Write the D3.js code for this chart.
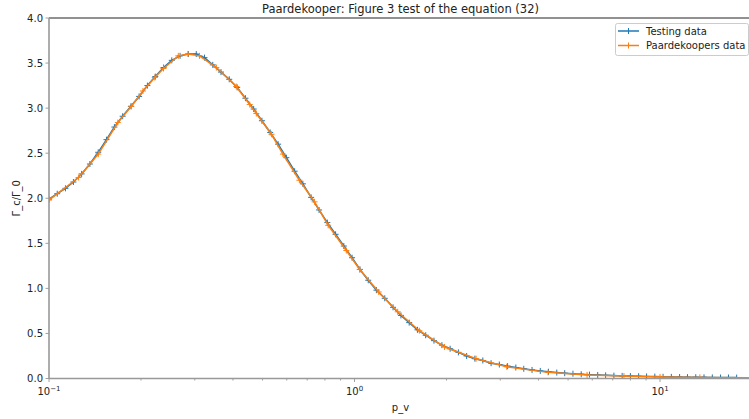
<!DOCTYPE html>
<html>
<head>
<meta charset="utf-8">
<script src="https://cdn.jsdelivr.net/npm/d3@7"></script>
<style>
  body { margin: 0; background: #fff; }
  svg { font-family: "DejaVu Sans", sans-serif; }
</style>
</head>
<body>
<script>
// testing data (log-spaced p_v values)
var testX = [0.1, 0.1064, 0.1132, 0.1202, 0.1279, 0.1361, 0.1449, 0.1542, 0.1637, 0.1742,
  0.1854, 0.1972, 0.2099, 0.2228, 0.2371, 0.2523, 0.2685, 0.2858, 0.3034, 0.3228,
  0.3436, 0.3656, 0.3890, 0.4130, 0.4395, 0.4677, 0.4977, 0.5297, 0.5623, 0.5984,
  0.6368, 0.6776, 0.7211, 0.7656, 0.8147, 0.8670, 0.9226, 0.9817, 1.042, 1.109,
  1.180, 1.256, 1.337, 1.419, 1.510, 1.607, 1.710, 1.820, 1.932, 2.056,
  2.188, 2.328, 2.477, 2.630, 2.799, 2.979, 3.170, 3.373, 3.581, 3.811,
  4.055, 4.315, 4.592, 4.875, 5.188, 5.521, 5.875, 6.252, 6.637, 7.063,
  7.516, 7.998, 8.511, 9.036, 9.616, 10.23, 10.89, 11.59, 12.30, 13.09,
  13.93, 14.83, 15.78, 16.75, 17.82];
var testY = [1.99, 2.05, 2.11, 2.18, 2.27, 2.38, 2.51, 2.65, 2.79, 2.91,
  3.02, 3.13, 3.25, 3.35, 3.45, 3.53, 3.58, 3.60, 3.60, 3.56,
  3.48, 3.40, 3.32, 3.23, 3.11, 2.99, 2.86, 2.73, 2.60, 2.45,
  2.30, 2.16, 2.01, 1.87, 1.73, 1.60, 1.47, 1.34, 1.21, 1.09,
  0.98, 0.89, 0.79, 0.70, 0.62, 0.54, 0.48, 0.42, 0.37, 0.33,
  0.29, 0.25, 0.22, 0.20, 0.17, 0.155, 0.137, 0.122, 0.108, 0.095,
  0.084, 0.075, 0.066, 0.059, 0.053, 0.047, 0.043, 0.039, 0.035, 0.032,
  0.029, 0.027, 0.025, 0.023, 0.021, 0.019, 0.018, 0.016, 0.015, 0.014,
  0.013, 0.012, 0.011, 0.011, 0.010];

var paperX = [0.1, 0.125, 0.145, 0.168, 0.186, 0.203, 0.222, 0.237, 0.265, 0.285,
  0.311, 0.353, 0.41, 0.454, 0.477, 0.535, 0.583, 0.66, 0.74, 0.82,
  0.94, 1.04, 1.2, 1.385, 1.63, 1.97, 2.5, 3.15, 4.3, 5.77,
  7.62, 10, 13.5, 20];
var paperY = [1.98, 2.23, 2.49, 2.84, 3.02, 3.19, 3.34, 3.44, 3.58, 3.60,
  3.58, 3.45, 3.24, 3.04, 2.94, 2.71, 2.49, 2.20, 1.96, 1.70,
  1.42, 1.21, 0.96, 0.74, 0.53, 0.35, 0.22, 0.13, 0.068, 0.04,
  0.027, 0.018, 0.012, 0.008];

var yTicks = [0, 0.5, 1, 1.5, 2, 2.5, 3, 3.5, 4];
var xMajor = [0.1, 1, 10];
var xLabels = ["10", "10", "10"], xExp = ["\u22121", "0", "1"];

function run() {
    var width = 749, height = 419;
    var mLeft = 49, mRight = 752, mTop = 18, mBottom = 378.5;

    var svg = d3.select("body").append("svg")
        .attr("width", width)
        .attr("height", height);

    var x = d3.scaleLog().domain([0.1, 20]).range([mLeft, mRight]);
    var y = d3.scaleLinear().domain([0, 4]).range([mBottom, mTop]);

    svg.append("defs").append("clipPath").attr("id", "clip")
        .append("rect").attr("x", mLeft).attr("y", mTop - 5)
        .attr("width", mRight - mLeft).attr("height", mBottom - mTop + 5);

    // minor x ticks
    var minor = [];
    [0.1, 1, 10].forEach(function (d) {
        for (var k = 2; k <= 9; k++) if (d * k <= 20) minor.push(d * k);
    });
    svg.selectAll(".minor").data(minor).enter().append("line")
        .attr("x1", d => x(d)).attr("x2", d => x(d))
        .attr("y1", mBottom).attr("y2", mBottom + 2)
        .attr("stroke", "#888").attr("stroke-width", 0.8);

    svg.selectAll(".major").data(xMajor).enter().append("line")
        .attr("x1", d => x(d)).attr("x2", d => x(d))
        .attr("y1", mBottom).attr("y2", mBottom + 3.5)
        .attr("stroke", "#888").attr("stroke-width", 0.8);

    var xl = svg.selectAll(".xl").data(xMajor).enter().append("text")
        .attr("x", d => x(d)).attr("y", mBottom + 16)
        .attr("text-anchor", "middle")
        .attr("font-size", 10).attr("fill", "#222");
    xl.append("tspan").text((d, i) => xLabels[i]);
    xl.append("tspan").attr("dy", -4).attr("font-size", 7).text((d, i) => xExp[i]);

    svg.selectAll(".yt").data(yTicks).enter().append("line")
        .attr("x1", mLeft - 3.5).attr("x2", mLeft)
        .attr("y1", d => y(d)).attr("y2", d => y(d))
        .attr("stroke", "#888").attr("stroke-width", 0.8);

    svg.selectAll(".yl").data(yTicks).enter().append("text")
        .attr("x", mLeft - 6).attr("y", d => y(d) + 3.5)
        .attr("text-anchor", "end")
        .attr("font-size", 10).attr("fill", "#222")
        .text(d => d.toFixed(1));

    // curves
    var line = d3.line().x(d => x(d[0])).y(d => y(d[1]));
    var plot = svg.append("g").attr("clip-path", "url(#clip)");

    function series(xs, ys, color) {
        var pts = xs.map((d, i) => [d, ys[i]]);
        plot.append("path").datum(pts)
            .attr("d", line)
            .attr("fill", "none")
            .attr("stroke", color)
            .attr("stroke-width", 1.5);
        plot.selectAll(null).data(pts).enter().append("path")
            .attr("d", d => {
                var cx = x(d[0]), cy = y(d[1]);
                return "M" + (cx - 3) + "," + cy + "H" + (cx + 3) + "M" + cx + "," + (cy - 3) + "V" + (cy + 3);
            })
            .attr("stroke", color)
            .attr("stroke-width", 1);
    }
    series(testX, testY, "#1f77b4");
    series(paperX, paperY, "#ff7f0e");

    // spines
    svg.append("line").attr("x1", mLeft).attr("x2", mRight).attr("y1", mTop).attr("y2", mTop)
        .attr("stroke", "#222").attr("stroke-width", 1);
    svg.append("line").attr("x1", mLeft).attr("x2", mLeft).attr("y1", mTop).attr("y2", mBottom)
        .attr("stroke", "#999").attr("stroke-width", 1.6);
    svg.append("line").attr("x1", mLeft).attr("x2", mRight).attr("y1", mBottom).attr("y2", mBottom)
        .attr("stroke", "#999").attr("stroke-width", 1.6);

    // texts
    svg.append("text").attr("x", (mLeft + mRight) / 2).attr("y", 13)
        .attr("text-anchor", "middle").attr("font-size", 11.5).attr("fill", "#222")
        .text("Paardekooper: Figure 3 test of the equation (32)");
    svg.append("text").attr("x", (mLeft + mRight) / 2).attr("y", 411)
        .attr("text-anchor", "middle").attr("font-size", 10).attr("fill", "#222")
        .text("p_v");
    svg.append("text").attr("transform", "translate(20," + (mTop + mBottom) / 2 + ") rotate(-90)")
        .attr("text-anchor", "middle").attr("font-size", 10).attr("fill", "#222")
        .text("\u0393_c/\u0393_0");

    // legend
    var lg = svg.append("g");
    lg.append("rect").attr("x", 615.5).attr("y", 23.5).attr("width", 133).attr("height", 32)
        .attr("rx", 2).attr("fill", "#fff").attr("fill-opacity", 0.8)
        .attr("stroke", "#ccc").attr("stroke-width", 1);
    var names = ["Testing data", "Paardekoopers data"], colors = ["#1f77b4", "#ff7f0e"];
    names.forEach(function (n, i) {
        var yy = 31 + i * 14.5;
        lg.append("line").attr("x1", 618).attr("x2", 639).attr("y1", yy).attr("y2", yy)
            .attr("stroke", colors[i]).attr("stroke-width", 1.5);
        lg.append("line").attr("x1", 628.5).attr("x2", 628.5).attr("y1", yy - 3).attr("y2", yy + 3)
            .attr("stroke", colors[i]).attr("stroke-width", 1);
        lg.append("text").attr("x", 646).attr("y", yy + 3.5)
            .attr("font-size", 10).attr("fill", "#222").text(n);
    });
}

run();
</script>
</body>
</html>
